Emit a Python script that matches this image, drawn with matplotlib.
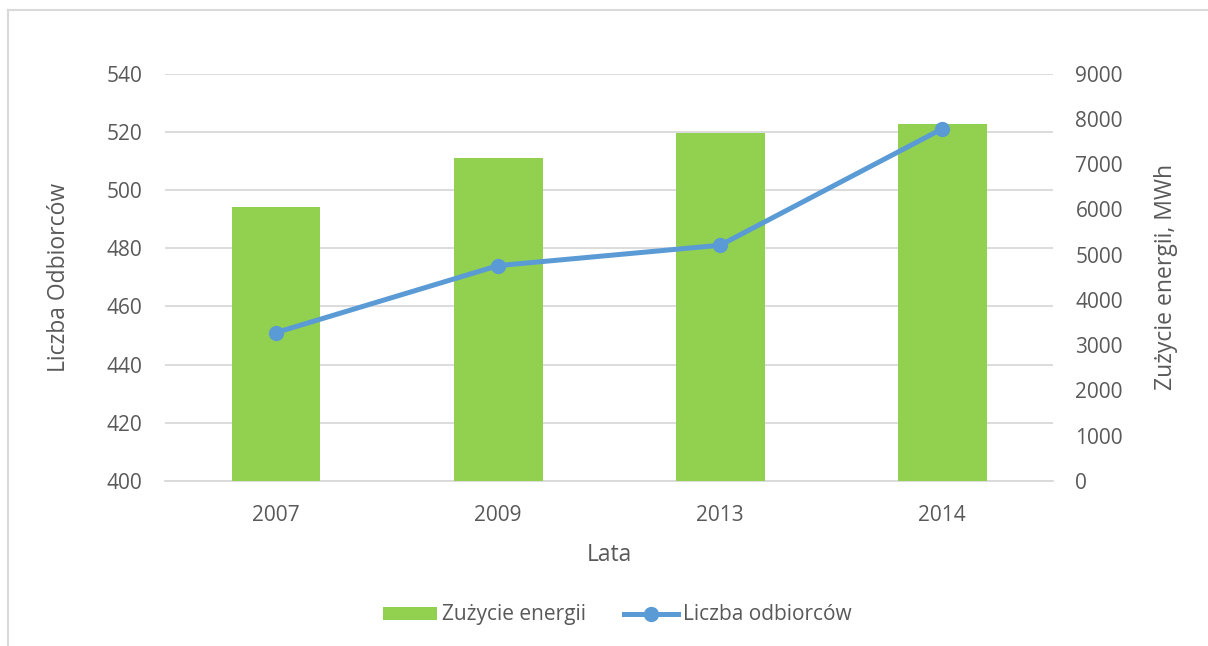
import matplotlib
matplotlib.use("Agg")
import matplotlib.pyplot as plt
from matplotlib.lines import Line2D
from matplotlib.patches import Patch

# Data
years = ["2007", "2009", "2013", "2014"]
energy_mwh = [6050, 7130, 7690, 7885]        # Zużycie energii (right axis)
customers = [451, 474, 481, 521]             # Liczba odbiorców (left axis)

GREEN = "#92D050"
BLUE = "#5B9BD5"
TEXT = "#595959"
GRID = "#D9D9D9"

plt.rcParams["font.family"] = ["Open Sans", "DejaVu Sans"]

fig = plt.figure(figsize=(12.08, 6.46), dpi=100)
rect = [0.1366, 0.2554, 0.7353, 0.6308]

# Background axes: gridlines and left tick labels
ax = fig.add_axes(rect)
ax.set_ylim(400, 540)
ax.set_yticks(range(400, 541, 20))
x = list(range(len(years)))
ax.set_xlim(-0.5, len(years) - 0.5)
ax.set_xticks(x)
ax.set_xticklabels(years)
ax.yaxis.grid(True, color=GRID, linewidth=1.3)
ax.set_axisbelow(True)
for s in ax.spines.values():
    s.set_visible(False)
ax.spines["bottom"].set_visible(True)
ax.spines["bottom"].set_color(GRID)
ax.spines["bottom"].set_linewidth(1.3)
ax.tick_params(axis="both", length=0, colors=TEXT, labelsize=15)
ax.tick_params(axis="y", pad=16.5)
ax.tick_params(axis="x", pad=17)
ax.set_ylabel("Liczba Odbiorców", color=TEXT, fontsize=16.5)
ax.yaxis.set_label_coords(-0.106, 0.5)
ax.set_xlabel("Lata", color=TEXT, fontsize=16.5)
ax.xaxis.set_label_coords(0.5, -0.152)

# Bars on the right axis
ax2 = ax.twinx()
ax2.bar(x, energy_mwh, width=0.4, color=GREEN, zorder=2)
ax2.set_ylim(0, 9000)
ax2.set_yticks(range(0, 9001, 1000))
for s in ax2.spines.values():
    s.set_visible(False)
ax2.tick_params(axis="y", length=0, colors=TEXT, labelsize=15, pad=16)
ax2.set_ylabel("Zużycie energii, MWh", color=TEXT, fontsize=16.5)
ax2.yaxis.set_label_coords(1.1137, 0.5)

# Line on top, sharing the left scale
ax3 = ax.twinx()
ax3.set_ylim(400, 540)
ax3.plot(x, customers, color=BLUE, linewidth=3.6, marker="o", markersize=10,
         solid_capstyle="round")
ax3.set_yticks([])
for s in ax3.spines.values():
    s.set_visible(False)

# Legend
handles = [
    Patch(facecolor=GREEN, edgecolor="none", label="Zużycie energii"),
    Line2D([0], [0], color=BLUE, linewidth=3.6, marker="o", markersize=10,
           label="Liczba odbiorców"),
]
leg = fig.legend(handles=handles, loc="center", bbox_to_anchor=(0.511, 0.048),
                 ncol=2, frameon=False, fontsize=15, handlelength=2.6,
                 handleheight=0.6, handletextpad=0.24, columnspacing=1.8)
for t in leg.get_texts():
    t.set_color(TEXT)

# Chart frame
fig.add_artist(Line2D([8 / 1208, 8 / 1208], [0, 1 - 10 / 646],
                      transform=fig.transFigure, color=GRID, linewidth=1.5))
fig.add_artist(Line2D([8 / 1208, 1], [1 - 10 / 646, 1 - 10 / 646],
                      transform=fig.transFigure, color=GRID, linewidth=1.5))

fig.savefig("out.png", dpi=100, facecolor="white")
